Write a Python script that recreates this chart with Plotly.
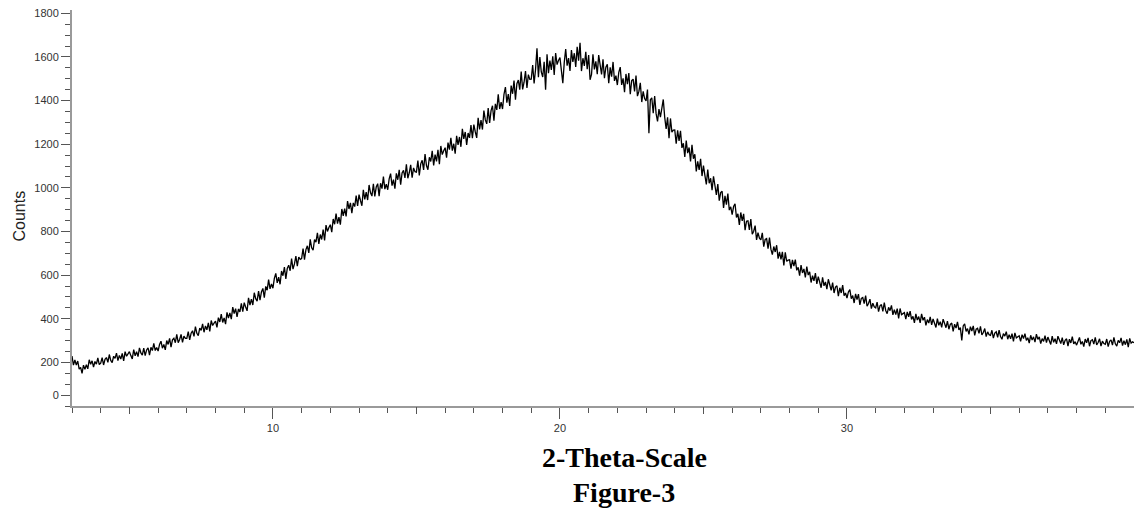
import plotly.graph_objects as go

# 2-theta sampling grid (degrees)
theta_start = 3.0
theta_step = 0.05

counts_03_10 = [
    229, 187, 211, 188, 206, 169, 177, 150, 187, 168, 189, 170, 212, 191, 207, 178, 204, 192, 220, 190,
    196, 222, 188, 214, 222, 200, 236, 209, 199, 228, 218, 242, 208, 232, 215, 241, 207, 249, 228, 236,
    249, 231, 216, 258, 230, 249, 226, 266, 243, 233, 265, 231, 257, 267, 233, 269, 254, 287, 254, 268,
    252, 282, 297, 265, 282, 257, 300, 282, 310, 270, 303, 310, 290, 328, 290, 305, 328, 292, 320, 310,
    310, 341, 303, 334, 345, 319, 364, 333, 323, 357, 347, 376, 338, 367, 349, 381, 342, 392, 369, 380,
    389, 360, 405, 385, 421, 383, 404, 375, 429, 403, 427, 398, 453, 424, 446, 408, 445, 431, 471, 433,
    474, 454, 436, 496, 462, 490, 463, 519, 492, 481, 527, 485, 523, 539, 497, 548, 531, 579, 537, 559,
]
counts_10_20 = [
    540, 585, 608, 564, 591, 558, 619, 597, 637, 583, 631, 645, 620, 676, 627, 651, 687, 641, 683, 672,
    676, 722, 671, 717, 734, 702, 764, 725, 714, 763, 751, 794, 743, 786, 763, 809, 759, 829, 800, 818,
    831, 797, 857, 833, 882, 836, 866, 831, 903, 872, 905, 869, 939, 903, 931, 884, 931, 914, 964, 917,
    969, 942, 918, 991, 947, 980, 944, 1013, 977, 962, 1018, 961, 1004, 1019, 962, 1021, 996, 1051, 994, 1017,
    991, 1041, 1065, 1010, 1038, 996, 1066, 1037, 1082, 1014, 1068, 1080, 1045, 1108, 1044, 1069, 1105, 1046, 1091, 1074,
    1072, 1125, 1057, 1110, 1126, 1082, 1155, 1102, 1083, 1140, 1121, 1170, 1103, 1152, 1121, 1174, 1108, 1192, 1152, 1170,
    1184, 1138, 1207, 1175, 1229, 1170, 1202, 1156, 1238, 1197, 1233, 1188, 1270, 1224, 1256, 1197, 1251, 1229, 1288, 1228,
    1290, 1257, 1229, 1321, 1268, 1310, 1267, 1354, 1311, 1293, 1365, 1297, 1354, 1376, 1308, 1385, 1357, 1429, 1361, 1393,
    1361, 1428, 1462, 1390, 1430, 1375, 1469, 1431, 1492, 1404, 1477, 1494, 1450, 1533, 1451, 1484, 1535, 1458, 1519, 1497,
    1498, 1563, 1478, 1543, 1640, 1507, 1599, 1531, 1508, 1578, 1450, 1612, 1525, 1583, 1540, 1603, 1517, 1618, 1565, 1584,
]
counts_20_30 = [
    1597, 1538, 1480, 1574, 1636, 1560, 1595, 1536, 1631, 1577, 1617, 1554, 1646, 1583, 1665, 1535, 1594, 1559, 1623, 1544,
    1608, 1495, 1520, 1612, 1543, 1580, 1521, 1608, 1549, 1520, 1589, 1502, 1553, 1566, 1479, 1552, 1509, 1577, 1490, 1514,
    1471, 1529, 1553, 1472, 1502, 1438, 1522, 1475, 1526, 1429, 1492, 1498, 1442, 1514, 1420, 1442, 1481, 1393, 1442, 1409,
    1398, 1450, 1250, 1404, 1412, 1342, 1421, 1340, 1304, 1361, 1324, 1372, 1405, 1323, 1270, 1323, 1227, 1318, 1255, 1264,
    1265, 1202, 1263, 1215, 1261, 1183, 1204, 1141, 1217, 1159, 1185, 1121, 1197, 1133, 1154, 1075, 1121, 1082, 1133, 1054,
    1102, 1057, 1016, 1084, 1021, 1044, 989, 1053, 998, 967, 1017, 941, 978, 984, 908, 963, 923, 974, 898, 913,
    877, 914, 927, 864, 881, 830, 887, 848, 881, 806, 847, 849, 807, 857, 787, 801, 827, 761, 795, 769,
    761, 794, 730, 763, 767, 721, 772, 719, 694, 731, 706, 737, 675, 706, 672, 707, 644, 704, 663, 669,
    670, 630, 670, 641, 671, 622, 636, 597, 646, 610, 628, 589, 639, 600, 615, 566, 597, 574, 609, 560,
    593, 566, 542, 590, 551, 569, 536, 581, 548, 530, 566, 518, 545, 551, 503, 542, 518, 554, 506, 518,
]
counts_30_40 = [
    495, 523, 534, 492, 506, 472, 514, 488, 513, 463, 493, 497, 469, 506, 458, 470, 490, 446, 471, 455,
    450, 476, 433, 459, 465, 434, 474, 438, 423, 452, 437, 461, 418, 442, 419, 446, 402, 447, 419, 425,
    428, 398, 431, 409, 435, 397, 411, 381, 422, 394, 410, 381, 422, 393, 407, 370, 396, 380, 408, 372,
    399, 379, 360, 400, 370, 386, 360, 398, 373, 359, 389, 352, 374, 380, 342, 375, 357, 386, 349, 359,
    300, 367, 377, 342, 355, 328, 364, 344, 367, 324, 352, 356, 333, 365, 326, 337, 355, 318, 340, 327,
    324, 347, 311, 334, 340, 315, 348, 318, 306, 332, 320, 341, 306, 327, 308, 332, 296, 335, 312, 318,
    322, 296, 327, 309, 332, 301, 313, 288, 324, 302, 317, 293, 329, 305, 317, 286, 309, 296, 322, 291,
    316, 299, 282, 320, 292, 308, 285, 320, 297, 286, 313, 280, 301, 308, 275, 306, 289, 318, 285, 295,
    279, 303, 314, 283, 296, 272, 307, 290, 312, 274, 300, 304, 284, 315, 280, 291, 308, 275, 297, 286,
    283, 307, 272, 296, 303, 279, 314, 285, 274, 301, 290, 312, 277, 299, 281, 305, 270, 310, 288, 294,
    290,
]

counts = counts_03_10 + counts_10_20 + counts_20_30 + counts_30_40
two_theta = [round(theta_start + i * theta_step, 2) for i in range(len(counts))]

x_major_ticks = [10, 20, 30]
x_mid_ticks = [5, 15, 25, 35]
y_tick_values = [50, 200, 400, 600, 800, 1000, 1200, 1400, 1600, 1800]
y_tick_labels = ["0", "200", "400", "600", "800", "1000", "1200", "1400", "1600", "1800"]

x_range = [3, 40]
y_range = [0, 1815]

fig = go.Figure()
fig.add_trace(go.Scatter(x=two_theta, y=counts, mode="lines",
                         line=dict(color="black", width=1.3), showlegend=False,
                         hoverinfo="skip"))
fig.add_trace(go.Scatter(x=[], y=[], xaxis="x2", showlegend=False, hoverinfo="skip"))

axis_grey = "#9a9a9a"
tick_font = dict(family="Liberation Sans, Arial, sans-serif", size=11, color="#333333")

fig.update_layout(
    width=1134, height=516,
    margin=dict(l=72, r=0, t=10, b=110),
    paper_bgcolor="white", plot_bgcolor="white",
    hovermode=False,
    xaxis=dict(range=x_range, showgrid=False, zeroline=False,
               showline=True, linecolor=axis_grey, linewidth=2,
               ticks="outside", tickvals=x_major_ticks, ticklen=11, tickwidth=1,
               tickcolor="#555555", tickfont=tick_font,
               minor=dict(dtick=1, tick0=0, ticks="outside", ticklen=5,
                          tickcolor="#555555", tickwidth=1, showgrid=False)),
    xaxis2=dict(range=x_range, matches="x", overlaying="x", anchor="y", side="bottom",
                showgrid=False, zeroline=False, showline=False,
                ticks="outside", tickvals=x_mid_ticks, ticklen=7, tickwidth=1,
                tickcolor="#555555", showticklabels=False, tickfont=tick_font),
    yaxis=dict(range=y_range, showgrid=False, zeroline=False,
               showline=True, linecolor=axis_grey, linewidth=2,
               ticks="outside", tickvals=y_tick_values, ticktext=y_tick_labels,
               ticklen=9, tickwidth=1, tickcolor="#555555", tickfont=tick_font,
               minor=dict(dtick=50, tick0=0, ticks="outside", ticklen=5,
                          tickcolor="#555555", tickwidth=1, showgrid=False)),
    annotations=[
        dict(text="Counts", textangle=-90, xref="paper", yref="paper",
             x=-0.0499, y=0.4786, xanchor="center", yanchor="middle", showarrow=False,
             font=dict(family="Liberation Sans, Arial, sans-serif", size=16, color="#222222")),
        dict(text="<b>2-Theta-Scale</b>", xref="paper", yref="paper",
             x=0.5198, y=-0.1289, xanchor="center", yanchor="middle", showarrow=False,
             font=dict(family="Liberation Serif, Times New Roman, serif", size=28, color="black")),
        dict(text="<b>Figure-3</b>", xref="paper", yref="paper",
             x=0.5198, y=-0.218, xanchor="center", yanchor="middle", showarrow=False,
             font=dict(family="Liberation Serif, Times New Roman, serif", size=28, color="black")),
    ],
)

fig.write_html("out.html",
               config={"displayModeBar": False},
               post_script="document.body.style.margin='0';document.body.style.overflow='hidden';")
